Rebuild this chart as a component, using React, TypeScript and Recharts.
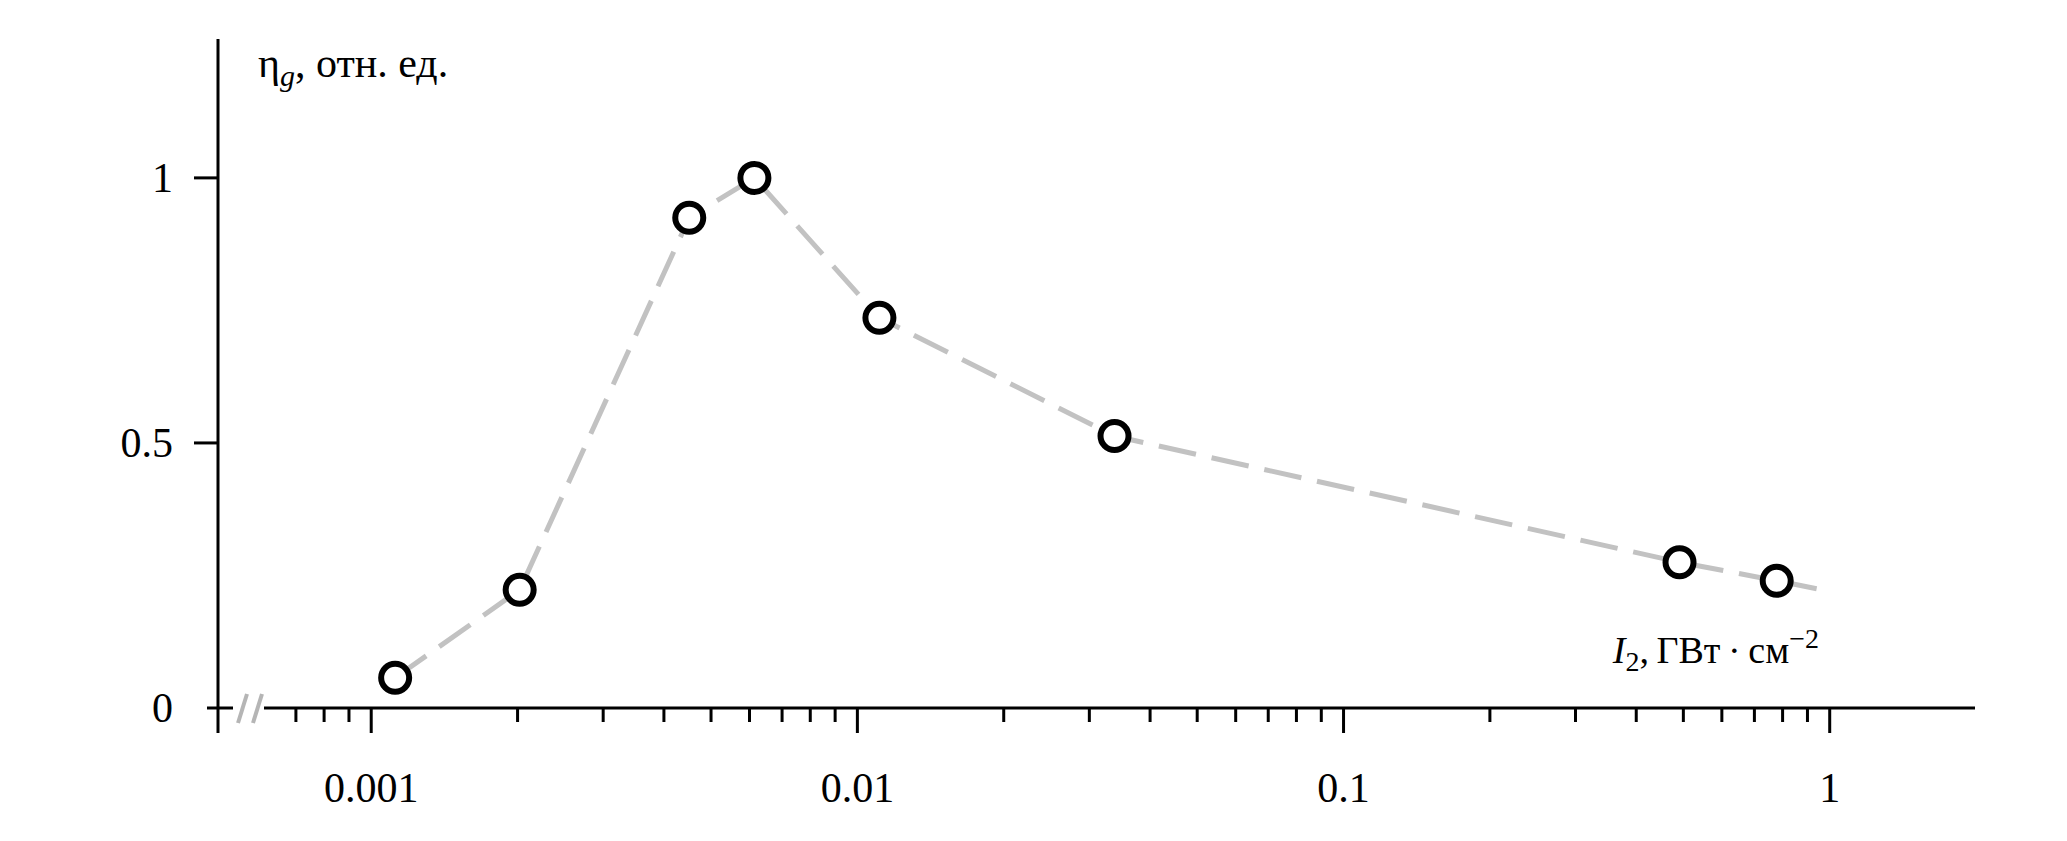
import { LineChart, Line, XAxis, YAxis } from "recharts";

// measured points: intensity I2 (GW/cm^2) vs relative efficiency
const intensity = [0.00112, 0.00202, 0.00451, 0.00614, 0.0111, 0.0338, 0.491, 0.778];
const efficiency = [0.057, 0.223, 0.925, 1.0, 0.736, 0.513, 0.275, 0.24];

// dashed guide line runs through the points and a little past the last one
const guideX = [...intensity, 0.94];
const guideY = [...efficiency, 0.225];

const majorTicks = [0.001, 0.01, 0.1, 1];
const majorLabels = ["0.001", "0.01", "0.1", "1"];
const minorTicks = [
  0.0007, 0.0008, 0.0009,
  0.002, 0.003, 0.004, 0.005, 0.006, 0.007, 0.008, 0.009,
  0.02, 0.03, 0.04, 0.05, 0.06, 0.07, 0.08, 0.09,
  0.2, 0.3, 0.4, 0.5, 0.6, 0.7, 0.8, 0.9,
];
const yTicks = [0, 0.5, 1];
const yLabels = ["0", "0.5", "1"];

const points = intensity.map((x, i) => ({ x, y: efficiency[i] }));
const guide = guideX.map((x, i) => ({ x, y: guideY[i] }));

const FONT = "'Liberation Serif', 'Times New Roman', serif";

const XTick = (props: any) => {
  const { x, y, payload } = props;
  const idx = majorTicks.findIndex(t => Math.abs(t - payload.value) < payload.value * 1e-6);
  const major = idx >= 0;
  return (
    <g>
      <line x1={x} x2={x} y1={y} y2={y + (major ? 25 : 14)} stroke="#000" strokeWidth={3} />
      {major && (
        <text x={x} y={y + 94} textAnchor="middle" fontSize={42} fontFamily={FONT} fill="#000">
          {majorLabels[idx]}
        </text>
      )}
    </g>
  );
};

const YTick = (props: any) => {
  const { x, y, payload } = props;
  const idx = yTicks.indexOf(payload.value);
  const zero = payload.value === 0;
  return (
    <g>
      {zero ? (
        <>
          <line x1={x - 11} x2={x + 15} y1={y} y2={y} stroke="#000" strokeWidth={3} />
          <line x1={x} x2={x} y1={y} y2={y + 25} stroke="#000" strokeWidth={3} />
        </>
      ) : (
        <line x1={x - 24} x2={x} y1={y} y2={y} stroke="#000" strokeWidth={3} />
      )}
      <text x={x - 45} y={y + 14} textAnchor="end" fontSize={42} fontFamily={FONT} fill="#000">
        {idx >= 0 ? yLabels[idx] : payload.value}
      </text>
    </g>
  );
};

// x axis line (starts after the break marks) plus the title
const XAxisDecor = (props: any) => {
  const { x, y, width } = props.viewBox;
  return (
    <g>
      <line x1={x + 20} x2={x + 29} y1={y + 15} y2={y - 14} stroke="#b5b5b5" strokeWidth={4} />
      <line x1={x + 35} x2={x + 44} y1={y + 15} y2={y - 14} stroke="#b5b5b5" strokeWidth={4} />
      <line x1={x + 46} x2={x + width} y1={y} y2={y} stroke="#000" strokeWidth={3} />
      <text x={x + width - 156} y={y - 45} textAnchor="end" fontSize={38} fontFamily={FONT} fill="#000">
        <tspan fontStyle="italic">I</tspan>
        <tspan dy={8} fontSize={28}>2</tspan>
        <tspan dy={-8}>,{"\u2009"}ГВт{"\u2009·\u2009"}см</tspan>
        <tspan dy={-15} fontSize={28}>−2</tspan>
      </text>
    </g>
  );
};

const YAxisTitle = (props: any) => {
  const { x, y, width } = props.viewBox;
  return (
    <text x={x + width + 40} y={y + 38} fontSize={42} fontFamily={FONT} fill="#000">
      <tspan>η</tspan>
      <tspan dy={9} fontSize={30} fontStyle="italic">g</tspan>
      <tspan dy={-9}>, отн. ед.</tspan>
    </text>
  );
};

export default function App() {
  return (
    <div style={{ position: "absolute", left: 0, top: 0, background: "#fff" }}>
      <LineChart
        width={2067}
        height={841}
        margin={{ top: 39, right: 92, bottom: 0, left: 0 }}
      >
        <XAxis
          dataKey="x"
          type="number"
          scale="log"
          domain={[0.000484, 1.99]}
          allowDataOverflow
          ticks={[...majorTicks, ...minorTicks].sort((a, b) => a - b)}
          interval={0}
          height={133}
          axisLine={false}
          tickLine={false}
          tickSize={0}
          tickMargin={0}
          tick={<XTick />}
          label={<XAxisDecor />}
        />
        <YAxis
          dataKey="y"
          type="number"
          domain={[0, 1.262]}
          allowDataOverflow
          ticks={yTicks}
          interval={0}
          width={218}
          axisLine={{ stroke: "#000", strokeWidth: 3 }}
          tickLine={false}
          tickSize={0}
          tickMargin={0}
          tick={<YTick />}
          label={<YAxisTitle />}
        />
        <Line
          data={guide}
          dataKey="y"
          type="linear"
          stroke="#c2c2c2"
          strokeWidth={5}
          strokeDasharray="38 16"
          dot={false}
          isAnimationActive={false}
        />
        <Line
          data={points}
          dataKey="y"
          type="linear"
          stroke="none"
          dot={{ r: 14, stroke: "#000", strokeWidth: 6, fill: "#fff" }}
          isAnimationActive={false}
        />
      </LineChart>
    </div>
  );
}
